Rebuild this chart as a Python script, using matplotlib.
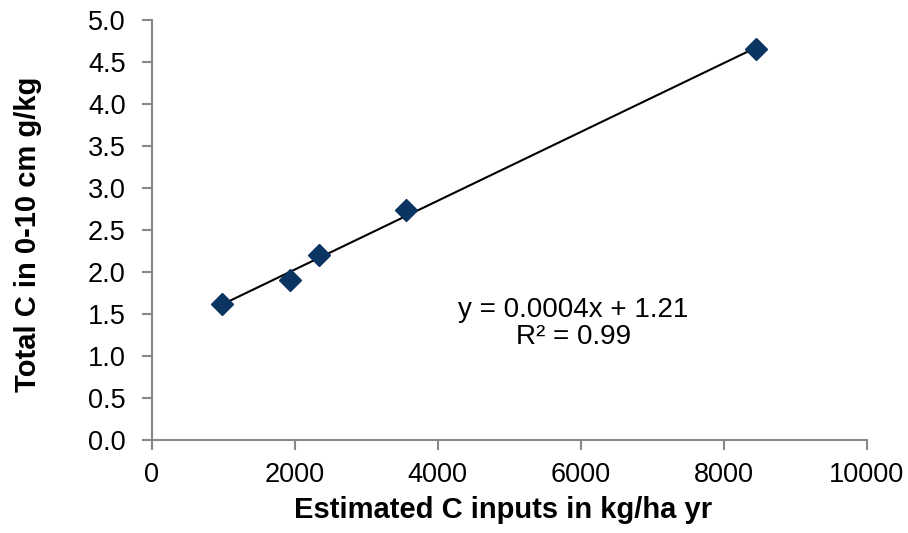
import numpy as np
import matplotlib
matplotlib.use('Agg')
import matplotlib.pyplot as plt

# data
c_inputs = [975, 1935, 2337, 3550, 8447]
total_c = [1.62, 1.905, 2.20, 2.74, 4.65]
x_ticks = [0, 2000, 4000, 6000, 8000, 10000]
y_ticks = [0.0, 0.5, 1.0, 1.5, 2.0, 2.5, 3.0, 3.5, 4.0, 4.5, 5.0]

plt.rcParams['font.family'] = ['Liberation Sans', 'DejaVu Sans']

fig = plt.figure(figsize=(9.08, 5.33), dpi=100)
ax = fig.add_axes([0.1674, 0.1745, 0.7871, 0.788])

# linear trendline over the data range
slope, intercept = np.polyfit(c_inputs, total_c, 1)
xs = np.array([min(c_inputs), max(c_inputs)])
ax.plot(xs, slope * xs + intercept, color='black', lw=1.5, zorder=2)
ax.plot(c_inputs, total_c, 'D', color='#0a3560', markersize=11, zorder=3)

ax.set_xlim(0, 10000)
ax.set_ylim(0, 5)
ax.set_xticks(x_ticks)
ax.set_yticks(y_ticks)
ax.set_yticklabels([f'{v:.1f}' for v in y_ticks])

grey = '#888888'
for side in ['top', 'right']:
    ax.spines[side].set_visible(False)
for side in ['left', 'bottom']:
    ax.spines[side].set_color(grey)
    ax.spines[side].set_linewidth(1.5)
ax.tick_params(axis='both', direction='out', length=7, width=1.5, color=grey,
               labelsize=19.5)
ax.tick_params(axis='y', pad=12)
ax.tick_params(axis='x', pad=9)

ax.set_xlabel('Estimated C inputs in kg/ha yr', fontsize=21, fontweight='bold')
ax.set_ylabel('Total C in 0-10 cm g/kg', fontsize=21, fontweight='bold')
ax.xaxis.set_label_coords(503 / 908, 1 - 510 / 533, transform=fig.transFigure)
ax.xaxis.label.set_va('center')
ax.yaxis.set_label_coords(28 / 908, 1 - 234 / 533, transform=fig.transFigure)
ax.yaxis.label.set_va('center')

ax.text(5900, 1.39, 'y = 0.0004x + 1.21\nR² = 0.99', fontsize=20,
        ha='center', va='center', linespacing=1.05)

fig.savefig('out.png', dpi=100)
